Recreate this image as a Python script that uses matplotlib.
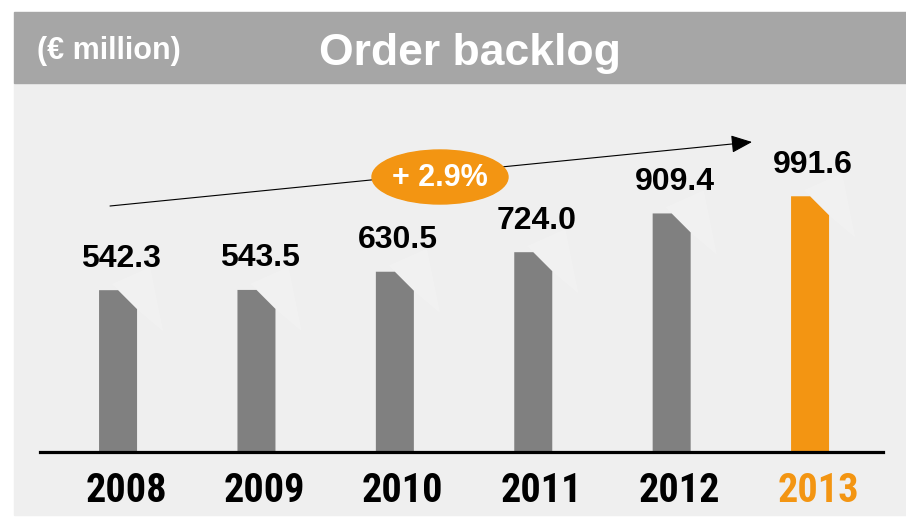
import matplotlib.pyplot as plt
from matplotlib.patches import Polygon, Rectangle, Ellipse, FancyArrowPatch

# data
years = ['2008', '2009', '2010', '2011', '2012', '2013']
backlog = [542.3, 543.5, 630.5, 724.0, 909.4, 991.6]
value_labels = ['542.3', '543.5', '630.5', '724.0', '909.4', '991.6']
growth_label = '+ 2.9%'
title = 'Order backlog'
unit = '(€ million)'

GREY = '#808080'
ORANGE = '#f39512'
HEADER = '#a6a6a6'
PANEL = '#efefef'
FONT = ['Liberation Sans', 'DejaVu Sans']
NARROW = ['Liberation Sans Narrow', 'Roboto Condensed', 'DejaVu Sans Condensed',
          'Liberation Sans', 'DejaVu Sans']

W, H = 906, 517
fig = plt.figure(figsize=(W / 100, H / 100), dpi=100)
fig.patch.set_facecolor('white')


def fx(px):
    return px / W


def fy(py):
    return 1 - py / H


# background panel + header band (behind the axes)
fig.patches.append(Rectangle((fx(14), fy(515)), 1 - fx(14), fy(83) - fy(515),
                             transform=fig.transFigure, color=PANEL, zorder=-2))
fig.patches.append(Rectangle((fx(14), fy(83)), 1 - fx(14), fy(12) - fy(83),
                             transform=fig.transFigure, color=HEADER, zorder=-2))
fig.text(fx(37), fy(59), unit, color='white', fontsize=22, fontweight='bold',
         family=FONT, ha='left', va='baseline')
fig.text(fx(470), fy(65), title, color='white', fontsize=32, fontweight='bold',
         family=FONT, ha='center', va='baseline')

# chart axes (pixel box: x 40..883, y 92..452)
ax_l, ax_r, ax_t, ax_b = 40, 883, 92, 452
ax = fig.add_axes([fx(ax_l), fy(ax_b), fx(ax_r) - fx(ax_l), fy(ax_t) - fy(ax_b)])
ax.set_facecolor('none')

px_per_unit = 0.209          # vertical scale of the original chart
floor = -232                 # value axis does not start at zero
ytop = floor + (ax_b - ax_t) / px_per_unit
x_left, x_right = -0.564, 5.527
ax.set_xlim(x_left, x_right)
ax.set_ylim(floor, ytop)

sx = (x_right - x_left) / (ax_r - ax_l)   # data x per pixel
sy = 1 / px_per_unit                      # data y per pixel

bw = 38 * sx
cut = 19
for i, v in enumerate(backlog):
    col = ORANGE if i == len(backlog) - 1 else GREY
    x0, x1 = i - bw / 2, i + bw / 2
    # faint folded-corner highlight
    hl = [(x0 + 20 * sx, v), (x0 + 13 * sx, v + 6 * sy), (x0 + 51 * sx, v + 23 * sy),
          (x0 + 64 * sx, v - 41 * sy), (x1, v - cut * sy)]
    ax.add_patch(Polygon(hl, closed=True, color='white', alpha=0.18, lw=0, zorder=1))
    pts = [(x0, floor), (x0, v), (x1 - cut * sx, v), (x1, v - cut * sy), (x1, floor)]
    ax.add_patch(Polygon(pts, closed=True, color=col, lw=0, zorder=2))
    ax.annotate(value_labels[i], (i + 3 * sx, v), xytext=(0, 17), textcoords='offset points',
                ha='center', va='baseline', fontsize=23, fontweight='bold',
                family=FONT, color='black')
    ax.annotate(years[i], (i + 8 * sx, floor), xytext=(0, -36), textcoords='offset points',
                ha='center', va='baseline', fontsize=29, fontweight='bold',
                fontstretch='condensed', family=NARROW,
                color=col if i == len(backlog) - 1 else 'black',
                annotation_clip=False)

for s in ['top', 'left', 'right']:
    ax.spines[s].set_visible(False)
ax.spines['bottom'].set_linewidth(2.3)
ax.spines['bottom'].set_color('black')
ax.set_xticks([])
ax.set_yticks([])

# growth arrow and badge
arrow = FancyArrowPatch((fx(110), fy(206)), (fx(752), fy(142)), transform=fig.transFigure,
                        arrowstyle='-|>,head_length=1.3,head_width=0.55', mutation_scale=10,
                        color='black', lw=0.8, shrinkA=0, shrinkB=0, zorder=3)
fig.patches.append(arrow)
fig.patches.append(Ellipse((fx(440), fy(177)), fx(136), 54 / H, transform=fig.transFigure,
                           color=ORANGE, zorder=4))
fig.text(fx(440), fy(186), growth_label, color='white', fontsize=22, fontweight='bold',
         family=FONT, ha='center', va='baseline', zorder=5)

fig.savefig('out.png', dpi=100)
